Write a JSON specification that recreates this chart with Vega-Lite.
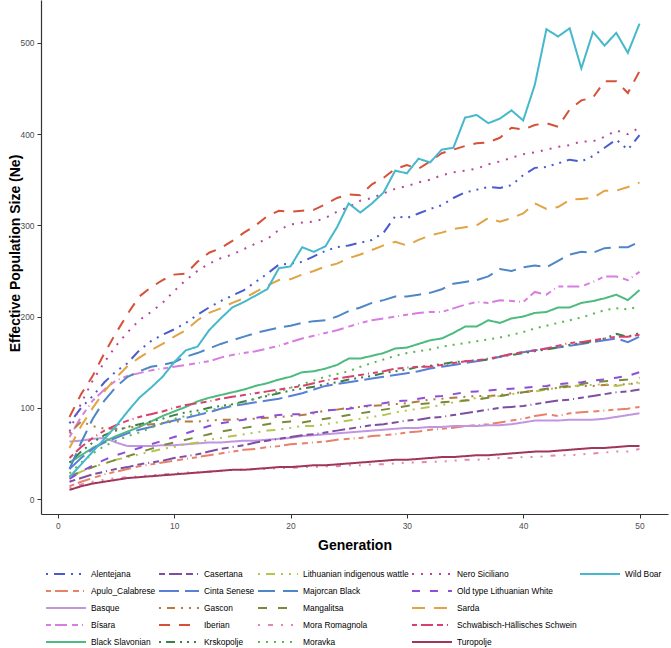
{
  "$schema": "https://vega.github.io/schema/vega-lite/v6.json",
  "width": 627,
  "height": 514,
  "autosize": "none",
  "padding": {"left": 41, "top": 0, "right": 3, "bottom": 134},
  "background": "white",
  "config": {
    "view": {"stroke": null},
    "font": "Liberation Sans",
    "axis": {
      "grid": false,
      "domainColor": "#333333",
      "domainWidth": 1.2,
      "tickColor": "#333333",
      "tickSize": 4,
      "labelFont": "Liberation Sans",
      "labelFontSize": 8.4,
      "labelColor": "#4d4d4d",
      "labelPadding": 3,
      "titleFont": "Liberation Sans",
      "titleFontSize": 14,
      "titleFontWeight": "bold",
      "titleColor": "#000000"
    },
    "legend": {
      "orient": "none",
      "legendX": 4,
      "legendY": 565.5,
      "columns": 5,
      "symbolType": "stroke",
      "symbolSize": 1600,
      "symbolStrokeWidth": 2,
      "clipHeight": 16.9,
      "labelFont": "Liberation Sans",
      "labelFontSize": 8.4,
      "labelColor": "#000000",
      "labelOffset": 4,
      "columnPadding": 2,
      "rowPadding": 0,
      "title": null
    }
  },
  "data": {"values": [
{"g":1,"b":"Alentejana","n":83},{"g":2,"b":"Alentejana","n":100},{"g":3,"b":"Alentejana","n":113},{"g":4,"b":"Alentejana","n":128},{"g":5,"b":"Alentejana","n":140},{"g":6,"b":"Alentejana","n":149},{"g":7,"b":"Alentejana","n":163},{"g":8,"b":"Alentejana","n":173},{"g":9,"b":"Alentejana","n":180},{"g":10,"b":"Alentejana","n":186},{"g":11,"b":"Alentejana","n":193},{"g":12,"b":"Alentejana","n":202},{"g":13,"b":"Alentejana","n":210},{"g":14,"b":"Alentejana","n":217},{"g":15,"b":"Alentejana","n":223},{"g":16,"b":"Alentejana","n":229},{"g":17,"b":"Alentejana","n":238},{"g":18,"b":"Alentejana","n":247},{"g":19,"b":"Alentejana","n":257},{"g":20,"b":"Alentejana","n":258},{"g":21,"b":"Alentejana","n":260},{"g":22,"b":"Alentejana","n":266},{"g":23,"b":"Alentejana","n":272},{"g":24,"b":"Alentejana","n":276},{"g":25,"b":"Alentejana","n":278},{"g":26,"b":"Alentejana","n":281},{"g":27,"b":"Alentejana","n":284},{"g":28,"b":"Alentejana","n":292},{"g":29,"b":"Alentejana","n":310},{"g":30,"b":"Alentejana","n":308},{"g":31,"b":"Alentejana","n":313},{"g":32,"b":"Alentejana","n":318},{"g":33,"b":"Alentejana","n":322},{"g":34,"b":"Alentejana","n":330},{"g":35,"b":"Alentejana","n":336},{"g":36,"b":"Alentejana","n":339},{"g":37,"b":"Alentejana","n":342},{"g":38,"b":"Alentejana","n":341},{"g":39,"b":"Alentejana","n":344},{"g":40,"b":"Alentejana","n":355},{"g":41,"b":"Alentejana","n":363},{"g":42,"b":"Alentejana","n":364},{"g":43,"b":"Alentejana","n":368},{"g":44,"b":"Alentejana","n":372},{"g":45,"b":"Alentejana","n":370},{"g":46,"b":"Alentejana","n":376},{"g":47,"b":"Alentejana","n":385},{"g":48,"b":"Alentejana","n":394},{"g":49,"b":"Alentejana","n":383},{"g":50,"b":"Alentejana","n":399},
{"g":1,"b":"Apulo_Calabrese","n":14},{"g":2,"b":"Apulo_Calabrese","n":19},{"g":3,"b":"Apulo_Calabrese","n":23},{"g":4,"b":"Apulo_Calabrese","n":27},{"g":5,"b":"Apulo_Calabrese","n":30},{"g":6,"b":"Apulo_Calabrese","n":33},{"g":7,"b":"Apulo_Calabrese","n":36},{"g":8,"b":"Apulo_Calabrese","n":38},{"g":9,"b":"Apulo_Calabrese","n":40},{"g":10,"b":"Apulo_Calabrese","n":42},{"g":11,"b":"Apulo_Calabrese","n":44},{"g":12,"b":"Apulo_Calabrese","n":46},{"g":13,"b":"Apulo_Calabrese","n":48},{"g":14,"b":"Apulo_Calabrese","n":50},{"g":15,"b":"Apulo_Calabrese","n":52},{"g":16,"b":"Apulo_Calabrese","n":54},{"g":17,"b":"Apulo_Calabrese","n":55},{"g":18,"b":"Apulo_Calabrese","n":57},{"g":19,"b":"Apulo_Calabrese","n":58},{"g":20,"b":"Apulo_Calabrese","n":60},{"g":21,"b":"Apulo_Calabrese","n":61},{"g":22,"b":"Apulo_Calabrese","n":62},{"g":23,"b":"Apulo_Calabrese","n":63},{"g":24,"b":"Apulo_Calabrese","n":65},{"g":25,"b":"Apulo_Calabrese","n":66},{"g":26,"b":"Apulo_Calabrese","n":67},{"g":27,"b":"Apulo_Calabrese","n":69},{"g":28,"b":"Apulo_Calabrese","n":70},{"g":29,"b":"Apulo_Calabrese","n":71},{"g":30,"b":"Apulo_Calabrese","n":73},{"g":31,"b":"Apulo_Calabrese","n":74},{"g":32,"b":"Apulo_Calabrese","n":76},{"g":33,"b":"Apulo_Calabrese","n":77},{"g":34,"b":"Apulo_Calabrese","n":78},{"g":35,"b":"Apulo_Calabrese","n":80},{"g":36,"b":"Apulo_Calabrese","n":81},{"g":37,"b":"Apulo_Calabrese","n":82},{"g":38,"b":"Apulo_Calabrese","n":84},{"g":39,"b":"Apulo_Calabrese","n":86},{"g":40,"b":"Apulo_Calabrese","n":88},{"g":41,"b":"Apulo_Calabrese","n":91},{"g":42,"b":"Apulo_Calabrese","n":93},{"g":43,"b":"Apulo_Calabrese","n":91},{"g":44,"b":"Apulo_Calabrese","n":94},{"g":45,"b":"Apulo_Calabrese","n":95},{"g":46,"b":"Apulo_Calabrese","n":96},{"g":47,"b":"Apulo_Calabrese","n":97},{"g":48,"b":"Apulo_Calabrese","n":98},{"g":49,"b":"Apulo_Calabrese","n":99},{"g":50,"b":"Apulo_Calabrese","n":101},
{"g":1,"b":"Basque","n":63},{"g":2,"b":"Basque","n":64},{"g":3,"b":"Basque","n":66},{"g":4,"b":"Basque","n":67},{"g":5,"b":"Basque","n":62},{"g":6,"b":"Basque","n":58},{"g":7,"b":"Basque","n":58},{"g":8,"b":"Basque","n":58},{"g":9,"b":"Basque","n":59},{"g":10,"b":"Basque","n":59},{"g":11,"b":"Basque","n":60},{"g":12,"b":"Basque","n":61},{"g":13,"b":"Basque","n":62},{"g":14,"b":"Basque","n":62},{"g":15,"b":"Basque","n":63},{"g":16,"b":"Basque","n":64},{"g":17,"b":"Basque","n":64},{"g":18,"b":"Basque","n":65},{"g":19,"b":"Basque","n":66},{"g":20,"b":"Basque","n":67},{"g":21,"b":"Basque","n":69},{"g":22,"b":"Basque","n":70},{"g":23,"b":"Basque","n":71},{"g":24,"b":"Basque","n":72},{"g":25,"b":"Basque","n":73},{"g":26,"b":"Basque","n":74},{"g":27,"b":"Basque","n":75},{"g":28,"b":"Basque","n":76},{"g":29,"b":"Basque","n":77},{"g":30,"b":"Basque","n":78},{"g":31,"b":"Basque","n":78},{"g":32,"b":"Basque","n":79},{"g":33,"b":"Basque","n":79},{"g":34,"b":"Basque","n":80},{"g":35,"b":"Basque","n":80},{"g":36,"b":"Basque","n":80},{"g":37,"b":"Basque","n":81},{"g":38,"b":"Basque","n":81},{"g":39,"b":"Basque","n":82},{"g":40,"b":"Basque","n":84},{"g":41,"b":"Basque","n":86},{"g":42,"b":"Basque","n":86},{"g":43,"b":"Basque","n":86},{"g":44,"b":"Basque","n":87},{"g":45,"b":"Basque","n":87},{"g":46,"b":"Basque","n":87},{"g":47,"b":"Basque","n":88},{"g":48,"b":"Basque","n":90},{"g":49,"b":"Basque","n":92},{"g":50,"b":"Basque","n":94},
{"g":1,"b":"Bísara","n":68},{"g":2,"b":"Bísara","n":90},{"g":3,"b":"Bísara","n":108},{"g":4,"b":"Bísara","n":120},{"g":5,"b":"Bísara","n":130},{"g":6,"b":"Bísara","n":135},{"g":7,"b":"Bísara","n":138},{"g":8,"b":"Bísara","n":141},{"g":9,"b":"Bísara","n":143},{"g":10,"b":"Bísara","n":145},{"g":11,"b":"Bísara","n":147},{"g":12,"b":"Bísara","n":149},{"g":13,"b":"Bísara","n":151},{"g":14,"b":"Bísara","n":155},{"g":15,"b":"Bísara","n":158},{"g":16,"b":"Bísara","n":160},{"g":17,"b":"Bísara","n":162},{"g":18,"b":"Bísara","n":165},{"g":19,"b":"Bísara","n":168},{"g":20,"b":"Bísara","n":172},{"g":21,"b":"Bísara","n":176},{"g":22,"b":"Bísara","n":179},{"g":23,"b":"Bísara","n":182},{"g":24,"b":"Bísara","n":185},{"g":25,"b":"Bísara","n":189},{"g":26,"b":"Bísara","n":193},{"g":27,"b":"Bísara","n":196},{"g":28,"b":"Bísara","n":198},{"g":29,"b":"Bísara","n":200},{"g":30,"b":"Bísara","n":202},{"g":31,"b":"Bísara","n":204},{"g":32,"b":"Bísara","n":205},{"g":33,"b":"Bísara","n":205},{"g":34,"b":"Bísara","n":209},{"g":35,"b":"Bísara","n":213},{"g":36,"b":"Bísara","n":216},{"g":37,"b":"Bísara","n":215},{"g":38,"b":"Bísara","n":218},{"g":39,"b":"Bísara","n":217},{"g":40,"b":"Bísara","n":216},{"g":41,"b":"Bísara","n":227},{"g":42,"b":"Bísara","n":224},{"g":43,"b":"Bísara","n":233},{"g":44,"b":"Bísara","n":233},{"g":45,"b":"Bísara","n":233},{"g":46,"b":"Bísara","n":238},{"g":47,"b":"Bísara","n":244},{"g":48,"b":"Bísara","n":244},{"g":49,"b":"Bísara","n":240},{"g":50,"b":"Bísara","n":249},
{"g":1,"b":"Black Slavonian","n":40},{"g":2,"b":"Black Slavonian","n":48},{"g":3,"b":"Black Slavonian","n":56},{"g":4,"b":"Black Slavonian","n":63},{"g":5,"b":"Black Slavonian","n":69},{"g":6,"b":"Black Slavonian","n":74},{"g":7,"b":"Black Slavonian","n":79},{"g":8,"b":"Black Slavonian","n":85},{"g":9,"b":"Black Slavonian","n":91},{"g":10,"b":"Black Slavonian","n":96},{"g":11,"b":"Black Slavonian","n":101},{"g":12,"b":"Black Slavonian","n":107},{"g":13,"b":"Black Slavonian","n":111},{"g":14,"b":"Black Slavonian","n":114},{"g":15,"b":"Black Slavonian","n":117},{"g":16,"b":"Black Slavonian","n":120},{"g":17,"b":"Black Slavonian","n":124},{"g":18,"b":"Black Slavonian","n":127},{"g":19,"b":"Black Slavonian","n":131},{"g":20,"b":"Black Slavonian","n":134},{"g":21,"b":"Black Slavonian","n":139},{"g":22,"b":"Black Slavonian","n":140},{"g":23,"b":"Black Slavonian","n":143},{"g":24,"b":"Black Slavonian","n":147},{"g":25,"b":"Black Slavonian","n":154},{"g":26,"b":"Black Slavonian","n":154},{"g":27,"b":"Black Slavonian","n":157},{"g":28,"b":"Black Slavonian","n":160},{"g":29,"b":"Black Slavonian","n":165},{"g":30,"b":"Black Slavonian","n":166},{"g":31,"b":"Black Slavonian","n":170},{"g":32,"b":"Black Slavonian","n":174},{"g":33,"b":"Black Slavonian","n":176},{"g":34,"b":"Black Slavonian","n":182},{"g":35,"b":"Black Slavonian","n":189},{"g":36,"b":"Black Slavonian","n":189},{"g":37,"b":"Black Slavonian","n":196},{"g":38,"b":"Black Slavonian","n":193},{"g":39,"b":"Black Slavonian","n":198},{"g":40,"b":"Black Slavonian","n":200},{"g":41,"b":"Black Slavonian","n":204},{"g":42,"b":"Black Slavonian","n":205},{"g":43,"b":"Black Slavonian","n":210},{"g":44,"b":"Black Slavonian","n":210},{"g":45,"b":"Black Slavonian","n":215},{"g":46,"b":"Black Slavonian","n":217},{"g":47,"b":"Black Slavonian","n":220},{"g":48,"b":"Black Slavonian","n":224},{"g":49,"b":"Black Slavonian","n":218},{"g":50,"b":"Black Slavonian","n":229},
{"g":1,"b":"Casertana","n":19},{"g":2,"b":"Casertana","n":23},{"g":3,"b":"Casertana","n":27},{"g":4,"b":"Casertana","n":30},{"g":5,"b":"Casertana","n":33},{"g":6,"b":"Casertana","n":35},{"g":7,"b":"Casertana","n":38},{"g":8,"b":"Casertana","n":40},{"g":9,"b":"Casertana","n":42},{"g":10,"b":"Casertana","n":45},{"g":11,"b":"Casertana","n":47},{"g":12,"b":"Casertana","n":49},{"g":13,"b":"Casertana","n":52},{"g":14,"b":"Casertana","n":55},{"g":15,"b":"Casertana","n":57},{"g":16,"b":"Casertana","n":59},{"g":17,"b":"Casertana","n":62},{"g":18,"b":"Casertana","n":64},{"g":19,"b":"Casertana","n":66},{"g":20,"b":"Casertana","n":68},{"g":21,"b":"Casertana","n":70},{"g":22,"b":"Casertana","n":71},{"g":23,"b":"Casertana","n":73},{"g":24,"b":"Casertana","n":75},{"g":25,"b":"Casertana","n":77},{"g":26,"b":"Casertana","n":79},{"g":27,"b":"Casertana","n":81},{"g":28,"b":"Casertana","n":82},{"g":29,"b":"Casertana","n":84},{"g":30,"b":"Casertana","n":86},{"g":31,"b":"Casertana","n":87},{"g":32,"b":"Casertana","n":89},{"g":33,"b":"Casertana","n":90},{"g":34,"b":"Casertana","n":92},{"g":35,"b":"Casertana","n":94},{"g":36,"b":"Casertana","n":96},{"g":37,"b":"Casertana","n":98},{"g":38,"b":"Casertana","n":100},{"g":39,"b":"Casertana","n":101},{"g":40,"b":"Casertana","n":102},{"g":41,"b":"Casertana","n":104},{"g":42,"b":"Casertana","n":106},{"g":43,"b":"Casertana","n":108},{"g":44,"b":"Casertana","n":109},{"g":45,"b":"Casertana","n":111},{"g":46,"b":"Casertana","n":113},{"g":47,"b":"Casertana","n":115},{"g":48,"b":"Casertana","n":117},{"g":49,"b":"Casertana","n":118},{"g":50,"b":"Casertana","n":120},
{"g":1,"b":"Cinta Senese","n":33},{"g":2,"b":"Cinta Senese","n":45},{"g":3,"b":"Cinta Senese","n":55},{"g":4,"b":"Cinta Senese","n":62},{"g":5,"b":"Cinta Senese","n":67},{"g":6,"b":"Cinta Senese","n":72},{"g":7,"b":"Cinta Senese","n":76},{"g":8,"b":"Cinta Senese","n":79},{"g":9,"b":"Cinta Senese","n":83},{"g":10,"b":"Cinta Senese","n":86},{"g":11,"b":"Cinta Senese","n":89},{"g":12,"b":"Cinta Senese","n":92},{"g":13,"b":"Cinta Senese","n":95},{"g":14,"b":"Cinta Senese","n":99},{"g":15,"b":"Cinta Senese","n":102},{"g":16,"b":"Cinta Senese","n":104},{"g":17,"b":"Cinta Senese","n":106},{"g":18,"b":"Cinta Senese","n":108},{"g":19,"b":"Cinta Senese","n":110},{"g":20,"b":"Cinta Senese","n":113},{"g":21,"b":"Cinta Senese","n":116},{"g":22,"b":"Cinta Senese","n":120},{"g":23,"b":"Cinta Senese","n":124},{"g":24,"b":"Cinta Senese","n":126},{"g":25,"b":"Cinta Senese","n":128},{"g":26,"b":"Cinta Senese","n":130},{"g":27,"b":"Cinta Senese","n":132},{"g":28,"b":"Cinta Senese","n":134},{"g":29,"b":"Cinta Senese","n":136},{"g":30,"b":"Cinta Senese","n":138},{"g":31,"b":"Cinta Senese","n":140},{"g":32,"b":"Cinta Senese","n":143},{"g":33,"b":"Cinta Senese","n":145},{"g":34,"b":"Cinta Senese","n":147},{"g":35,"b":"Cinta Senese","n":149},{"g":36,"b":"Cinta Senese","n":151},{"g":37,"b":"Cinta Senese","n":153},{"g":38,"b":"Cinta Senese","n":156},{"g":39,"b":"Cinta Senese","n":159},{"g":40,"b":"Cinta Senese","n":161},{"g":41,"b":"Cinta Senese","n":163},{"g":42,"b":"Cinta Senese","n":165},{"g":43,"b":"Cinta Senese","n":166},{"g":44,"b":"Cinta Senese","n":168},{"g":45,"b":"Cinta Senese","n":170},{"g":46,"b":"Cinta Senese","n":172},{"g":47,"b":"Cinta Senese","n":174},{"g":48,"b":"Cinta Senese","n":176},{"g":49,"b":"Cinta Senese","n":172},{"g":50,"b":"Cinta Senese","n":178},
{"g":1,"b":"Gascon","n":72},{"g":2,"b":"Gascon","n":85},{"g":3,"b":"Gascon","n":80},{"g":4,"b":"Gascon","n":77},{"g":5,"b":"Gascon","n":77},{"g":6,"b":"Gascon","n":78},{"g":7,"b":"Gascon","n":80},{"g":8,"b":"Gascon","n":82},{"g":9,"b":"Gascon","n":83},{"g":10,"b":"Gascon","n":85},{"g":11,"b":"Gascon","n":85},{"g":12,"b":"Gascon","n":85},{"g":13,"b":"Gascon","n":86},{"g":14,"b":"Gascon","n":87},{"g":15,"b":"Gascon","n":87},{"g":16,"b":"Gascon","n":88},{"g":17,"b":"Gascon","n":88},{"g":18,"b":"Gascon","n":89},{"g":19,"b":"Gascon","n":90},{"g":20,"b":"Gascon","n":91},{"g":21,"b":"Gascon","n":92},{"g":22,"b":"Gascon","n":94},{"g":23,"b":"Gascon","n":97},{"g":24,"b":"Gascon","n":98},{"g":25,"b":"Gascon","n":100},{"g":26,"b":"Gascon","n":101},{"g":27,"b":"Gascon","n":102},{"g":28,"b":"Gascon","n":103},{"g":29,"b":"Gascon","n":104},{"g":30,"b":"Gascon","n":105},{"g":31,"b":"Gascon","n":107},{"g":32,"b":"Gascon","n":109},{"g":33,"b":"Gascon","n":110},{"g":34,"b":"Gascon","n":111},{"g":35,"b":"Gascon","n":112},{"g":36,"b":"Gascon","n":113},{"g":37,"b":"Gascon","n":113},{"g":38,"b":"Gascon","n":114},{"g":39,"b":"Gascon","n":116},{"g":40,"b":"Gascon","n":117},{"g":41,"b":"Gascon","n":119},{"g":42,"b":"Gascon","n":120},{"g":43,"b":"Gascon","n":122},{"g":44,"b":"Gascon","n":123},{"g":45,"b":"Gascon","n":124},{"g":46,"b":"Gascon","n":124},{"g":47,"b":"Gascon","n":125},{"g":48,"b":"Gascon","n":125},{"g":49,"b":"Gascon","n":126},{"g":50,"b":"Gascon","n":127},
{"g":1,"b":"Iberian","n":90},{"g":2,"b":"Iberian","n":115},{"g":3,"b":"Iberian","n":135},{"g":4,"b":"Iberian","n":160},{"g":5,"b":"Iberian","n":182},{"g":6,"b":"Iberian","n":203},{"g":7,"b":"Iberian","n":222},{"g":8,"b":"Iberian","n":232},{"g":9,"b":"Iberian","n":240},{"g":10,"b":"Iberian","n":246},{"g":11,"b":"Iberian","n":247},{"g":12,"b":"Iberian","n":260},{"g":13,"b":"Iberian","n":270},{"g":14,"b":"Iberian","n":275},{"g":15,"b":"Iberian","n":283},{"g":16,"b":"Iberian","n":292},{"g":17,"b":"Iberian","n":300},{"g":18,"b":"Iberian","n":310},{"g":19,"b":"Iberian","n":316},{"g":20,"b":"Iberian","n":315},{"g":21,"b":"Iberian","n":316},{"g":22,"b":"Iberian","n":317},{"g":23,"b":"Iberian","n":323},{"g":24,"b":"Iberian","n":330},{"g":25,"b":"Iberian","n":334},{"g":26,"b":"Iberian","n":333},{"g":27,"b":"Iberian","n":345},{"g":28,"b":"Iberian","n":352},{"g":29,"b":"Iberian","n":362},{"g":30,"b":"Iberian","n":366},{"g":31,"b":"Iberian","n":362},{"g":32,"b":"Iberian","n":370},{"g":33,"b":"Iberian","n":379},{"g":34,"b":"Iberian","n":383},{"g":35,"b":"Iberian","n":387},{"g":36,"b":"Iberian","n":390},{"g":37,"b":"Iberian","n":391},{"g":38,"b":"Iberian","n":396},{"g":39,"b":"Iberian","n":407},{"g":40,"b":"Iberian","n":405},{"g":41,"b":"Iberian","n":410},{"g":42,"b":"Iberian","n":412},{"g":43,"b":"Iberian","n":408},{"g":44,"b":"Iberian","n":427},{"g":45,"b":"Iberian","n":437},{"g":46,"b":"Iberian","n":440},{"g":47,"b":"Iberian","n":458},{"g":48,"b":"Iberian","n":458},{"g":49,"b":"Iberian","n":445},{"g":50,"b":"Iberian","n":469},
{"g":1,"b":"Krskopolje","n":40},{"g":2,"b":"Krskopolje","n":52},{"g":3,"b":"Krskopolje","n":62},{"g":4,"b":"Krskopolje","n":70},{"g":5,"b":"Krskopolje","n":75},{"g":6,"b":"Krskopolje","n":79},{"g":7,"b":"Krskopolje","n":82},{"g":8,"b":"Krskopolje","n":85},{"g":9,"b":"Krskopolje","n":88},{"g":10,"b":"Krskopolje","n":92},{"g":11,"b":"Krskopolje","n":95},{"g":12,"b":"Krskopolje","n":97},{"g":13,"b":"Krskopolje","n":100},{"g":14,"b":"Krskopolje","n":102},{"g":15,"b":"Krskopolje","n":104},{"g":16,"b":"Krskopolje","n":107},{"g":17,"b":"Krskopolje","n":110},{"g":18,"b":"Krskopolje","n":113},{"g":19,"b":"Krskopolje","n":116},{"g":20,"b":"Krskopolje","n":119},{"g":21,"b":"Krskopolje","n":121},{"g":22,"b":"Krskopolje","n":123},{"g":23,"b":"Krskopolje","n":126},{"g":24,"b":"Krskopolje","n":128},{"g":25,"b":"Krskopolje","n":131},{"g":26,"b":"Krskopolje","n":133},{"g":27,"b":"Krskopolje","n":135},{"g":28,"b":"Krskopolje","n":138},{"g":29,"b":"Krskopolje","n":140},{"g":30,"b":"Krskopolje","n":142},{"g":31,"b":"Krskopolje","n":145},{"g":32,"b":"Krskopolje","n":146},{"g":33,"b":"Krskopolje","n":148},{"g":34,"b":"Krskopolje","n":150},{"g":35,"b":"Krskopolje","n":151},{"g":36,"b":"Krskopolje","n":152},{"g":37,"b":"Krskopolje","n":153},{"g":38,"b":"Krskopolje","n":156},{"g":39,"b":"Krskopolje","n":158},{"g":40,"b":"Krskopolje","n":160},{"g":41,"b":"Krskopolje","n":162},{"g":42,"b":"Krskopolje","n":164},{"g":43,"b":"Krskopolje","n":166},{"g":44,"b":"Krskopolje","n":169},{"g":45,"b":"Krskopolje","n":171},{"g":46,"b":"Krskopolje","n":173},{"g":47,"b":"Krskopolje","n":176},{"g":48,"b":"Krskopolje","n":181},{"g":49,"b":"Krskopolje","n":178},{"g":50,"b":"Krskopolje","n":182},
{"g":1,"b":"Lithuanian indigenous wattle","n":24},{"g":2,"b":"Lithuanian indigenous wattle","n":30},{"g":3,"b":"Lithuanian indigenous wattle","n":35},{"g":4,"b":"Lithuanian indigenous wattle","n":39},{"g":5,"b":"Lithuanian indigenous wattle","n":43},{"g":6,"b":"Lithuanian indigenous wattle","n":46},{"g":7,"b":"Lithuanian indigenous wattle","n":49},{"g":8,"b":"Lithuanian indigenous wattle","n":52},{"g":9,"b":"Lithuanian indigenous wattle","n":55},{"g":10,"b":"Lithuanian indigenous wattle","n":57},{"g":11,"b":"Lithuanian indigenous wattle","n":60},{"g":12,"b":"Lithuanian indigenous wattle","n":62},{"g":13,"b":"Lithuanian indigenous wattle","n":65},{"g":14,"b":"Lithuanian indigenous wattle","n":67},{"g":15,"b":"Lithuanian indigenous wattle","n":69},{"g":16,"b":"Lithuanian indigenous wattle","n":71},{"g":17,"b":"Lithuanian indigenous wattle","n":73},{"g":18,"b":"Lithuanian indigenous wattle","n":75},{"g":19,"b":"Lithuanian indigenous wattle","n":76},{"g":20,"b":"Lithuanian indigenous wattle","n":78},{"g":21,"b":"Lithuanian indigenous wattle","n":80},{"g":22,"b":"Lithuanian indigenous wattle","n":80},{"g":23,"b":"Lithuanian indigenous wattle","n":82},{"g":24,"b":"Lithuanian indigenous wattle","n":84},{"g":25,"b":"Lithuanian indigenous wattle","n":86},{"g":26,"b":"Lithuanian indigenous wattle","n":88},{"g":27,"b":"Lithuanian indigenous wattle","n":90},{"g":28,"b":"Lithuanian indigenous wattle","n":92},{"g":29,"b":"Lithuanian indigenous wattle","n":95},{"g":30,"b":"Lithuanian indigenous wattle","n":97},{"g":31,"b":"Lithuanian indigenous wattle","n":99},{"g":32,"b":"Lithuanian indigenous wattle","n":101},{"g":33,"b":"Lithuanian indigenous wattle","n":103},{"g":34,"b":"Lithuanian indigenous wattle","n":106},{"g":35,"b":"Lithuanian indigenous wattle","n":108},{"g":36,"b":"Lithuanian indigenous wattle","n":111},{"g":37,"b":"Lithuanian indigenous wattle","n":112},{"g":38,"b":"Lithuanian indigenous wattle","n":113},{"g":39,"b":"Lithuanian indigenous wattle","n":115},{"g":40,"b":"Lithuanian indigenous wattle","n":117},{"g":41,"b":"Lithuanian indigenous wattle","n":118},{"g":42,"b":"Lithuanian indigenous wattle","n":120},{"g":43,"b":"Lithuanian indigenous wattle","n":122},{"g":44,"b":"Lithuanian indigenous wattle","n":123},{"g":45,"b":"Lithuanian indigenous wattle","n":125},{"g":46,"b":"Lithuanian indigenous wattle","n":125},{"g":47,"b":"Lithuanian indigenous wattle","n":126},{"g":48,"b":"Lithuanian indigenous wattle","n":124},{"g":49,"b":"Lithuanian indigenous wattle","n":126},{"g":50,"b":"Lithuanian indigenous wattle","n":128},
{"g":1,"b":"Majorcan Black","n":33},{"g":2,"b":"Majorcan Black","n":62},{"g":3,"b":"Majorcan Black","n":88},{"g":4,"b":"Majorcan Black","n":108},{"g":5,"b":"Majorcan Black","n":123},{"g":6,"b":"Majorcan Black","n":134},{"g":7,"b":"Majorcan Black","n":140},{"g":8,"b":"Majorcan Black","n":145},{"g":9,"b":"Majorcan Black","n":147},{"g":10,"b":"Majorcan Black","n":150},{"g":11,"b":"Majorcan Black","n":156},{"g":12,"b":"Majorcan Black","n":160},{"g":13,"b":"Majorcan Black","n":165},{"g":14,"b":"Majorcan Black","n":170},{"g":15,"b":"Majorcan Black","n":174},{"g":16,"b":"Majorcan Black","n":178},{"g":17,"b":"Majorcan Black","n":182},{"g":18,"b":"Majorcan Black","n":185},{"g":19,"b":"Majorcan Black","n":188},{"g":20,"b":"Majorcan Black","n":190},{"g":21,"b":"Majorcan Black","n":193},{"g":22,"b":"Majorcan Black","n":195},{"g":23,"b":"Majorcan Black","n":196},{"g":24,"b":"Majorcan Black","n":200},{"g":25,"b":"Majorcan Black","n":206},{"g":26,"b":"Majorcan Black","n":210},{"g":27,"b":"Majorcan Black","n":215},{"g":28,"b":"Majorcan Black","n":218},{"g":29,"b":"Majorcan Black","n":222},{"g":30,"b":"Majorcan Black","n":222},{"g":31,"b":"Majorcan Black","n":224},{"g":32,"b":"Majorcan Black","n":226},{"g":33,"b":"Majorcan Black","n":230},{"g":34,"b":"Majorcan Black","n":236},{"g":35,"b":"Majorcan Black","n":238},{"g":36,"b":"Majorcan Black","n":240},{"g":37,"b":"Majorcan Black","n":244},{"g":38,"b":"Majorcan Black","n":252},{"g":39,"b":"Majorcan Black","n":250},{"g":40,"b":"Majorcan Black","n":254},{"g":41,"b":"Majorcan Black","n":256},{"g":42,"b":"Majorcan Black","n":254},{"g":43,"b":"Majorcan Black","n":261},{"g":44,"b":"Majorcan Black","n":268},{"g":45,"b":"Majorcan Black","n":271},{"g":46,"b":"Majorcan Black","n":270},{"g":47,"b":"Majorcan Black","n":275},{"g":48,"b":"Majorcan Black","n":276},{"g":49,"b":"Majorcan Black","n":276},{"g":50,"b":"Majorcan Black","n":282},
{"g":1,"b":"Mangalitsa","n":25},{"g":2,"b":"Mangalitsa","n":30},{"g":3,"b":"Mangalitsa","n":35},{"g":4,"b":"Mangalitsa","n":39},{"g":5,"b":"Mangalitsa","n":43},{"g":6,"b":"Mangalitsa","n":47},{"g":7,"b":"Mangalitsa","n":51},{"g":8,"b":"Mangalitsa","n":55},{"g":9,"b":"Mangalitsa","n":59},{"g":10,"b":"Mangalitsa","n":62},{"g":11,"b":"Mangalitsa","n":65},{"g":12,"b":"Mangalitsa","n":68},{"g":13,"b":"Mangalitsa","n":71},{"g":14,"b":"Mangalitsa","n":74},{"g":15,"b":"Mangalitsa","n":76},{"g":16,"b":"Mangalitsa","n":78},{"g":17,"b":"Mangalitsa","n":80},{"g":18,"b":"Mangalitsa","n":82},{"g":19,"b":"Mangalitsa","n":84},{"g":20,"b":"Mangalitsa","n":85},{"g":21,"b":"Mangalitsa","n":84},{"g":22,"b":"Mangalitsa","n":86},{"g":23,"b":"Mangalitsa","n":88},{"g":24,"b":"Mangalitsa","n":90},{"g":25,"b":"Mangalitsa","n":92},{"g":26,"b":"Mangalitsa","n":94},{"g":27,"b":"Mangalitsa","n":96},{"g":28,"b":"Mangalitsa","n":98},{"g":29,"b":"Mangalitsa","n":100},{"g":30,"b":"Mangalitsa","n":102},{"g":31,"b":"Mangalitsa","n":104},{"g":32,"b":"Mangalitsa","n":105},{"g":33,"b":"Mangalitsa","n":106},{"g":34,"b":"Mangalitsa","n":107},{"g":35,"b":"Mangalitsa","n":108},{"g":36,"b":"Mangalitsa","n":109},{"g":37,"b":"Mangalitsa","n":111},{"g":38,"b":"Mangalitsa","n":113},{"g":39,"b":"Mangalitsa","n":115},{"g":40,"b":"Mangalitsa","n":117},{"g":41,"b":"Mangalitsa","n":119},{"g":42,"b":"Mangalitsa","n":121},{"g":43,"b":"Mangalitsa","n":123},{"g":44,"b":"Mangalitsa","n":124},{"g":45,"b":"Mangalitsa","n":126},{"g":46,"b":"Mangalitsa","n":128},{"g":47,"b":"Mangalitsa","n":129},{"g":48,"b":"Mangalitsa","n":130},{"g":49,"b":"Mangalitsa","n":131},{"g":50,"b":"Mangalitsa","n":133},
{"g":1,"b":"Mora Romagnola","n":12},{"g":2,"b":"Mora Romagnola","n":16},{"g":3,"b":"Mora Romagnola","n":19},{"g":4,"b":"Mora Romagnola","n":21},{"g":5,"b":"Mora Romagnola","n":23},{"g":6,"b":"Mora Romagnola","n":24},{"g":7,"b":"Mora Romagnola","n":25},{"g":8,"b":"Mora Romagnola","n":26},{"g":9,"b":"Mora Romagnola","n":27},{"g":10,"b":"Mora Romagnola","n":28},{"g":11,"b":"Mora Romagnola","n":29},{"g":12,"b":"Mora Romagnola","n":29},{"g":13,"b":"Mora Romagnola","n":30},{"g":14,"b":"Mora Romagnola","n":31},{"g":15,"b":"Mora Romagnola","n":32},{"g":16,"b":"Mora Romagnola","n":32},{"g":17,"b":"Mora Romagnola","n":33},{"g":18,"b":"Mora Romagnola","n":33},{"g":19,"b":"Mora Romagnola","n":34},{"g":20,"b":"Mora Romagnola","n":34},{"g":21,"b":"Mora Romagnola","n":35},{"g":22,"b":"Mora Romagnola","n":35},{"g":23,"b":"Mora Romagnola","n":36},{"g":24,"b":"Mora Romagnola","n":36},{"g":25,"b":"Mora Romagnola","n":37},{"g":26,"b":"Mora Romagnola","n":37},{"g":27,"b":"Mora Romagnola","n":38},{"g":28,"b":"Mora Romagnola","n":38},{"g":29,"b":"Mora Romagnola","n":39},{"g":30,"b":"Mora Romagnola","n":40},{"g":31,"b":"Mora Romagnola","n":40},{"g":32,"b":"Mora Romagnola","n":41},{"g":33,"b":"Mora Romagnola","n":41},{"g":34,"b":"Mora Romagnola","n":42},{"g":35,"b":"Mora Romagnola","n":43},{"g":36,"b":"Mora Romagnola","n":43},{"g":37,"b":"Mora Romagnola","n":44},{"g":38,"b":"Mora Romagnola","n":45},{"g":39,"b":"Mora Romagnola","n":45},{"g":40,"b":"Mora Romagnola","n":46},{"g":41,"b":"Mora Romagnola","n":46},{"g":42,"b":"Mora Romagnola","n":47},{"g":43,"b":"Mora Romagnola","n":48},{"g":44,"b":"Mora Romagnola","n":48},{"g":45,"b":"Mora Romagnola","n":49},{"g":46,"b":"Mora Romagnola","n":50},{"g":47,"b":"Mora Romagnola","n":51},{"g":48,"b":"Mora Romagnola","n":52},{"g":49,"b":"Mora Romagnola","n":52},{"g":50,"b":"Mora Romagnola","n":55},
{"g":1,"b":"Moravka","n":28},{"g":2,"b":"Moravka","n":40},{"g":3,"b":"Moravka","n":50},{"g":4,"b":"Moravka","n":58},{"g":5,"b":"Moravka","n":64},{"g":6,"b":"Moravka","n":69},{"g":7,"b":"Moravka","n":73},{"g":8,"b":"Moravka","n":78},{"g":9,"b":"Moravka","n":83},{"g":10,"b":"Moravka","n":88},{"g":11,"b":"Moravka","n":91},{"g":12,"b":"Moravka","n":94},{"g":13,"b":"Moravka","n":97},{"g":14,"b":"Moravka","n":100},{"g":15,"b":"Moravka","n":103},{"g":16,"b":"Moravka","n":106},{"g":17,"b":"Moravka","n":110},{"g":18,"b":"Moravka","n":114},{"g":19,"b":"Moravka","n":118},{"g":20,"b":"Moravka","n":122},{"g":21,"b":"Moravka","n":126},{"g":22,"b":"Moravka","n":130},{"g":23,"b":"Moravka","n":134},{"g":24,"b":"Moravka","n":137},{"g":25,"b":"Moravka","n":140},{"g":26,"b":"Moravka","n":145},{"g":27,"b":"Moravka","n":149},{"g":28,"b":"Moravka","n":153},{"g":29,"b":"Moravka","n":157},{"g":30,"b":"Moravka","n":160},{"g":31,"b":"Moravka","n":162},{"g":32,"b":"Moravka","n":164},{"g":33,"b":"Moravka","n":167},{"g":34,"b":"Moravka","n":169},{"g":35,"b":"Moravka","n":171},{"g":36,"b":"Moravka","n":173},{"g":37,"b":"Moravka","n":175},{"g":38,"b":"Moravka","n":177},{"g":39,"b":"Moravka","n":180},{"g":40,"b":"Moravka","n":183},{"g":41,"b":"Moravka","n":187},{"g":42,"b":"Moravka","n":190},{"g":43,"b":"Moravka","n":193},{"g":44,"b":"Moravka","n":196},{"g":45,"b":"Moravka","n":199},{"g":46,"b":"Moravka","n":203},{"g":47,"b":"Moravka","n":207},{"g":48,"b":"Moravka","n":209},{"g":49,"b":"Moravka","n":208},{"g":50,"b":"Moravka","n":211},
{"g":1,"b":"Nero Siciliano","n":74},{"g":2,"b":"Nero Siciliano","n":105},{"g":3,"b":"Nero Siciliano","n":130},{"g":4,"b":"Nero Siciliano","n":150},{"g":5,"b":"Nero Siciliano","n":168},{"g":6,"b":"Nero Siciliano","n":183},{"g":7,"b":"Nero Siciliano","n":196},{"g":8,"b":"Nero Siciliano","n":205},{"g":9,"b":"Nero Siciliano","n":215},{"g":10,"b":"Nero Siciliano","n":228},{"g":11,"b":"Nero Siciliano","n":240},{"g":12,"b":"Nero Siciliano","n":250},{"g":13,"b":"Nero Siciliano","n":258},{"g":14,"b":"Nero Siciliano","n":264},{"g":15,"b":"Nero Siciliano","n":268},{"g":16,"b":"Nero Siciliano","n":274},{"g":17,"b":"Nero Siciliano","n":280},{"g":18,"b":"Nero Siciliano","n":285},{"g":19,"b":"Nero Siciliano","n":295},{"g":20,"b":"Nero Siciliano","n":301},{"g":21,"b":"Nero Siciliano","n":303},{"g":22,"b":"Nero Siciliano","n":304},{"g":23,"b":"Nero Siciliano","n":308},{"g":24,"b":"Nero Siciliano","n":315},{"g":25,"b":"Nero Siciliano","n":320},{"g":26,"b":"Nero Siciliano","n":327},{"g":27,"b":"Nero Siciliano","n":330},{"g":28,"b":"Nero Siciliano","n":335},{"g":29,"b":"Nero Siciliano","n":340},{"g":30,"b":"Nero Siciliano","n":343},{"g":31,"b":"Nero Siciliano","n":347},{"g":32,"b":"Nero Siciliano","n":350},{"g":33,"b":"Nero Siciliano","n":355},{"g":34,"b":"Nero Siciliano","n":358},{"g":35,"b":"Nero Siciliano","n":360},{"g":36,"b":"Nero Siciliano","n":362},{"g":37,"b":"Nero Siciliano","n":367},{"g":38,"b":"Nero Siciliano","n":370},{"g":39,"b":"Nero Siciliano","n":374},{"g":40,"b":"Nero Siciliano","n":378},{"g":41,"b":"Nero Siciliano","n":380},{"g":42,"b":"Nero Siciliano","n":383},{"g":43,"b":"Nero Siciliano","n":386},{"g":44,"b":"Nero Siciliano","n":388},{"g":45,"b":"Nero Siciliano","n":392},{"g":46,"b":"Nero Siciliano","n":392},{"g":47,"b":"Nero Siciliano","n":397},{"g":48,"b":"Nero Siciliano","n":404},{"g":49,"b":"Nero Siciliano","n":400},{"g":50,"b":"Nero Siciliano","n":407},
{"g":1,"b":"Old type Lithuanian White","n":22},{"g":2,"b":"Old type Lithuanian White","n":30},{"g":3,"b":"Old type Lithuanian White","n":37},{"g":4,"b":"Old type Lithuanian White","n":43},{"g":5,"b":"Old type Lithuanian White","n":48},{"g":6,"b":"Old type Lithuanian White","n":52},{"g":7,"b":"Old type Lithuanian White","n":56},{"g":8,"b":"Old type Lithuanian White","n":60},{"g":9,"b":"Old type Lithuanian White","n":64},{"g":10,"b":"Old type Lithuanian White","n":68},{"g":11,"b":"Old type Lithuanian White","n":72},{"g":12,"b":"Old type Lithuanian White","n":76},{"g":13,"b":"Old type Lithuanian White","n":80},{"g":14,"b":"Old type Lithuanian White","n":83},{"g":15,"b":"Old type Lithuanian White","n":85},{"g":16,"b":"Old type Lithuanian White","n":87},{"g":17,"b":"Old type Lithuanian White","n":89},{"g":18,"b":"Old type Lithuanian White","n":91},{"g":19,"b":"Old type Lithuanian White","n":92},{"g":20,"b":"Old type Lithuanian White","n":93},{"g":21,"b":"Old type Lithuanian White","n":93},{"g":22,"b":"Old type Lithuanian White","n":95},{"g":23,"b":"Old type Lithuanian White","n":97},{"g":24,"b":"Old type Lithuanian White","n":98},{"g":25,"b":"Old type Lithuanian White","n":99},{"g":26,"b":"Old type Lithuanian White","n":101},{"g":27,"b":"Old type Lithuanian White","n":103},{"g":28,"b":"Old type Lithuanian White","n":105},{"g":29,"b":"Old type Lithuanian White","n":107},{"g":30,"b":"Old type Lithuanian White","n":108},{"g":31,"b":"Old type Lithuanian White","n":110},{"g":32,"b":"Old type Lithuanian White","n":112},{"g":33,"b":"Old type Lithuanian White","n":113},{"g":34,"b":"Old type Lithuanian White","n":115},{"g":35,"b":"Old type Lithuanian White","n":117},{"g":36,"b":"Old type Lithuanian White","n":118},{"g":37,"b":"Old type Lithuanian White","n":119},{"g":38,"b":"Old type Lithuanian White","n":120},{"g":39,"b":"Old type Lithuanian White","n":121},{"g":40,"b":"Old type Lithuanian White","n":122},{"g":41,"b":"Old type Lithuanian White","n":123},{"g":42,"b":"Old type Lithuanian White","n":124},{"g":43,"b":"Old type Lithuanian White","n":126},{"g":44,"b":"Old type Lithuanian White","n":127},{"g":45,"b":"Old type Lithuanian White","n":128},{"g":46,"b":"Old type Lithuanian White","n":130},{"g":47,"b":"Old type Lithuanian White","n":131},{"g":48,"b":"Old type Lithuanian White","n":133},{"g":49,"b":"Old type Lithuanian White","n":135},{"g":50,"b":"Old type Lithuanian White","n":139},
{"g":1,"b":"Sarda","n":56},{"g":2,"b":"Sarda","n":80},{"g":3,"b":"Sarda","n":100},{"g":4,"b":"Sarda","n":118},{"g":5,"b":"Sarda","n":133},{"g":6,"b":"Sarda","n":146},{"g":7,"b":"Sarda","n":155},{"g":8,"b":"Sarda","n":163},{"g":9,"b":"Sarda","n":170},{"g":10,"b":"Sarda","n":178},{"g":11,"b":"Sarda","n":185},{"g":12,"b":"Sarda","n":196},{"g":13,"b":"Sarda","n":204},{"g":14,"b":"Sarda","n":209},{"g":15,"b":"Sarda","n":215},{"g":16,"b":"Sarda","n":220},{"g":17,"b":"Sarda","n":227},{"g":18,"b":"Sarda","n":234},{"g":19,"b":"Sarda","n":240},{"g":20,"b":"Sarda","n":241},{"g":21,"b":"Sarda","n":246},{"g":22,"b":"Sarda","n":250},{"g":23,"b":"Sarda","n":255},{"g":24,"b":"Sarda","n":258},{"g":25,"b":"Sarda","n":264},{"g":26,"b":"Sarda","n":268},{"g":27,"b":"Sarda","n":273},{"g":28,"b":"Sarda","n":278},{"g":29,"b":"Sarda","n":282},{"g":30,"b":"Sarda","n":278},{"g":31,"b":"Sarda","n":284},{"g":32,"b":"Sarda","n":289},{"g":33,"b":"Sarda","n":292},{"g":34,"b":"Sarda","n":296},{"g":35,"b":"Sarda","n":298},{"g":36,"b":"Sarda","n":300},{"g":37,"b":"Sarda","n":308},{"g":38,"b":"Sarda","n":304},{"g":39,"b":"Sarda","n":308},{"g":40,"b":"Sarda","n":313},{"g":41,"b":"Sarda","n":324},{"g":42,"b":"Sarda","n":318},{"g":43,"b":"Sarda","n":320},{"g":44,"b":"Sarda","n":328},{"g":45,"b":"Sarda","n":329},{"g":46,"b":"Sarda","n":330},{"g":47,"b":"Sarda","n":338},{"g":48,"b":"Sarda","n":338},{"g":49,"b":"Sarda","n":342},{"g":50,"b":"Sarda","n":347},
{"g":1,"b":"Schwäbisch-Hällisches Schwein","n":45},{"g":2,"b":"Schwäbisch-Hällisches Schwein","n":57},{"g":3,"b":"Schwäbisch-Hällisches Schwein","n":67},{"g":4,"b":"Schwäbisch-Hällisches Schwein","n":75},{"g":5,"b":"Schwäbisch-Hällisches Schwein","n":81},{"g":6,"b":"Schwäbisch-Hällisches Schwein","n":86},{"g":7,"b":"Schwäbisch-Hällisches Schwein","n":90},{"g":8,"b":"Schwäbisch-Hällisches Schwein","n":93},{"g":9,"b":"Schwäbisch-Hällisches Schwein","n":96},{"g":10,"b":"Schwäbisch-Hällisches Schwein","n":100},{"g":11,"b":"Schwäbisch-Hällisches Schwein","n":103},{"g":12,"b":"Schwäbisch-Hällisches Schwein","n":105},{"g":13,"b":"Schwäbisch-Hällisches Schwein","n":107},{"g":14,"b":"Schwäbisch-Hällisches Schwein","n":110},{"g":15,"b":"Schwäbisch-Hällisches Schwein","n":112},{"g":16,"b":"Schwäbisch-Hällisches Schwein","n":114},{"g":17,"b":"Schwäbisch-Hällisches Schwein","n":116},{"g":18,"b":"Schwäbisch-Hällisches Schwein","n":118},{"g":19,"b":"Schwäbisch-Hällisches Schwein","n":120},{"g":20,"b":"Schwäbisch-Hällisches Schwein","n":122},{"g":21,"b":"Schwäbisch-Hällisches Schwein","n":124},{"g":22,"b":"Schwäbisch-Hällisches Schwein","n":127},{"g":23,"b":"Schwäbisch-Hällisches Schwein","n":130},{"g":24,"b":"Schwäbisch-Hällisches Schwein","n":132},{"g":25,"b":"Schwäbisch-Hällisches Schwein","n":134},{"g":26,"b":"Schwäbisch-Hällisches Schwein","n":136},{"g":27,"b":"Schwäbisch-Hällisches Schwein","n":138},{"g":28,"b":"Schwäbisch-Hällisches Schwein","n":140},{"g":29,"b":"Schwäbisch-Hällisches Schwein","n":143},{"g":30,"b":"Schwäbisch-Hällisches Schwein","n":144},{"g":31,"b":"Schwäbisch-Hällisches Schwein","n":145},{"g":32,"b":"Schwäbisch-Hällisches Schwein","n":145},{"g":33,"b":"Schwäbisch-Hällisches Schwein","n":147},{"g":34,"b":"Schwäbisch-Hällisches Schwein","n":149},{"g":35,"b":"Schwäbisch-Hällisches Schwein","n":151},{"g":36,"b":"Schwäbisch-Hällisches Schwein","n":152},{"g":37,"b":"Schwäbisch-Hällisches Schwein","n":154},{"g":38,"b":"Schwäbisch-Hällisches Schwein","n":156},{"g":39,"b":"Schwäbisch-Hällisches Schwein","n":159},{"g":40,"b":"Schwäbisch-Hällisches Schwein","n":161},{"g":41,"b":"Schwäbisch-Hällisches Schwein","n":163},{"g":42,"b":"Schwäbisch-Hällisches Schwein","n":165},{"g":43,"b":"Schwäbisch-Hällisches Schwein","n":168},{"g":44,"b":"Schwäbisch-Hällisches Schwein","n":171},{"g":45,"b":"Schwäbisch-Hällisches Schwein","n":172},{"g":46,"b":"Schwäbisch-Hällisches Schwein","n":174},{"g":47,"b":"Schwäbisch-Hällisches Schwein","n":176},{"g":48,"b":"Schwäbisch-Hällisches Schwein","n":178},{"g":49,"b":"Schwäbisch-Hällisches Schwein","n":178},{"g":50,"b":"Schwäbisch-Hällisches Schwein","n":180},
{"g":1,"b":"Turopolje","n":10},{"g":2,"b":"Turopolje","n":14},{"g":3,"b":"Turopolje","n":17},{"g":4,"b":"Turopolje","n":19},{"g":5,"b":"Turopolje","n":21},{"g":6,"b":"Turopolje","n":23},{"g":7,"b":"Turopolje","n":24},{"g":8,"b":"Turopolje","n":25},{"g":9,"b":"Turopolje","n":26},{"g":10,"b":"Turopolje","n":27},{"g":11,"b":"Turopolje","n":28},{"g":12,"b":"Turopolje","n":29},{"g":13,"b":"Turopolje","n":30},{"g":14,"b":"Turopolje","n":31},{"g":15,"b":"Turopolje","n":32},{"g":16,"b":"Turopolje","n":32},{"g":17,"b":"Turopolje","n":33},{"g":18,"b":"Turopolje","n":34},{"g":19,"b":"Turopolje","n":35},{"g":20,"b":"Turopolje","n":35},{"g":21,"b":"Turopolje","n":36},{"g":22,"b":"Turopolje","n":37},{"g":23,"b":"Turopolje","n":37},{"g":24,"b":"Turopolje","n":38},{"g":25,"b":"Turopolje","n":39},{"g":26,"b":"Turopolje","n":40},{"g":27,"b":"Turopolje","n":41},{"g":28,"b":"Turopolje","n":42},{"g":29,"b":"Turopolje","n":43},{"g":30,"b":"Turopolje","n":43},{"g":31,"b":"Turopolje","n":44},{"g":32,"b":"Turopolje","n":45},{"g":33,"b":"Turopolje","n":46},{"g":34,"b":"Turopolje","n":46},{"g":35,"b":"Turopolje","n":47},{"g":36,"b":"Turopolje","n":48},{"g":37,"b":"Turopolje","n":48},{"g":38,"b":"Turopolje","n":49},{"g":39,"b":"Turopolje","n":50},{"g":40,"b":"Turopolje","n":51},{"g":41,"b":"Turopolje","n":52},{"g":42,"b":"Turopolje","n":52},{"g":43,"b":"Turopolje","n":53},{"g":44,"b":"Turopolje","n":54},{"g":45,"b":"Turopolje","n":55},{"g":46,"b":"Turopolje","n":56},{"g":47,"b":"Turopolje","n":56},{"g":48,"b":"Turopolje","n":57},{"g":49,"b":"Turopolje","n":58},{"g":50,"b":"Turopolje","n":58},
{"g":1,"b":"Wild Boar","n":24},{"g":2,"b":"Wild Boar","n":38},{"g":3,"b":"Wild Boar","n":52},{"g":4,"b":"Wild Boar","n":66},{"g":5,"b":"Wild Boar","n":80},{"g":6,"b":"Wild Boar","n":96},{"g":7,"b":"Wild Boar","n":111},{"g":8,"b":"Wild Boar","n":122},{"g":9,"b":"Wild Boar","n":134},{"g":10,"b":"Wild Boar","n":150},{"g":11,"b":"Wild Boar","n":163},{"g":12,"b":"Wild Boar","n":167},{"g":13,"b":"Wild Boar","n":185},{"g":14,"b":"Wild Boar","n":198},{"g":15,"b":"Wild Boar","n":210},{"g":16,"b":"Wild Boar","n":216},{"g":17,"b":"Wild Boar","n":223},{"g":18,"b":"Wild Boar","n":230},{"g":19,"b":"Wild Boar","n":253},{"g":20,"b":"Wild Boar","n":255},{"g":21,"b":"Wild Boar","n":276},{"g":22,"b":"Wild Boar","n":271},{"g":23,"b":"Wild Boar","n":277},{"g":24,"b":"Wild Boar","n":298},{"g":25,"b":"Wild Boar","n":324},{"g":26,"b":"Wild Boar","n":314},{"g":27,"b":"Wild Boar","n":324},{"g":28,"b":"Wild Boar","n":336},{"g":29,"b":"Wild Boar","n":360},{"g":30,"b":"Wild Boar","n":357},{"g":31,"b":"Wild Boar","n":373},{"g":32,"b":"Wild Boar","n":369},{"g":33,"b":"Wild Boar","n":383},{"g":34,"b":"Wild Boar","n":385},{"g":35,"b":"Wild Boar","n":418},{"g":36,"b":"Wild Boar","n":421},{"g":37,"b":"Wild Boar","n":412},{"g":38,"b":"Wild Boar","n":417},{"g":39,"b":"Wild Boar","n":426},{"g":40,"b":"Wild Boar","n":415},{"g":41,"b":"Wild Boar","n":454},{"g":42,"b":"Wild Boar","n":515},{"g":43,"b":"Wild Boar","n":507},{"g":44,"b":"Wild Boar","n":516},{"g":45,"b":"Wild Boar","n":472},{"g":46,"b":"Wild Boar","n":512},{"g":47,"b":"Wild Boar","n":497},{"g":48,"b":"Wild Boar","n":511},{"g":49,"b":"Wild Boar","n":489},{"g":50,"b":"Wild Boar","n":521}
  ]},
  "mark": {"type": "line", "strokeWidth": 2, "clip": true},
  "encoding": {
    "x": {
      "field": "g", "type": "quantitative",
      "scale": {"domain": [-1.45, 52.45], "nice": false, "zero": false},
      "axis": {"values": [0, 10, 20, 30, 40, 50], "title": "Generation", "titleBaseline": "alphabetic", "titleY": 35}
    },
    "y": {
      "field": "n", "type": "quantitative",
      "scale": {"domain": [-16.4, 547], "nice": false, "zero": false},
      "axis": {"values": [0, 100, 200, 300, 400, 500], "title": "Effective Population Size (Ne)", "titleAngle": -90, "titleBaseline": "alphabetic", "titleAlign": "center", "titleX": -22, "titleY": 253}
    },
    "color": {
      "field": "b", "type": "nominal",
      "scale": {
        "domain": ["Alentejana", "Apulo_Calabrese", "Basque", "Bísara", "Black Slavonian",
                   "Casertana", "Cinta Senese", "Gascon", "Iberian", "Krskopolje",
                   "Lithuanian indigenous wattle", "Majorcan Black", "Mangalitsa", "Mora Romagnola", "Moravka",
                   "Nero Siciliano", "Old type Lithuanian White", "Sarda", "Schwäbisch-Hällisches Schwein", "Turopolje",
                   "Wild Boar", " ", "  ", "   "],
        "range": ["#4a5bd0", "#e8806a", "#c395e0", "#d77ee0", "#4dbb80",
                  "#7e4ea0", "#5a7fd8", "#b47a3e", "#d6513a", "#3c8048",
                  "#b3c450", "#4f86c6", "#7b8a3a", "#e088b5", "#5cb84e",
                  "#b8469c", "#8b4fd8", "#e0a445", "#d8416e", "#a03658",
                  "#45b8cc", "transparent", "transparent", "transparent"]
      },
      "legend": {"title": null}
    },
    "strokeDash": {
      "field": "b", "type": "nominal",
      "scale": {
        "domain": ["Alentejana", "Apulo_Calabrese", "Basque", "Bísara", "Black Slavonian",
                   "Casertana", "Cinta Senese", "Gascon", "Iberian", "Krskopolje",
                   "Lithuanian indigenous wattle", "Majorcan Black", "Mangalitsa", "Mora Romagnola", "Moravka",
                   "Nero Siciliano", "Old type Lithuanian White", "Sarda", "Schwäbisch-Hällisches Schwein", "Turopolje",
                   "Wild Boar", " ", "  ", "   "],
        "range": [[2,6,11,6,2,6,2,6], [5,4,13,5,6,4,1,4], [1,0], [5,4,12,5,6,4,1,4], [1,0],
                  [6,4,13,4,7,4,1,4], [20,6], [2,6,8,6,2,6,2,6], [11,9], [2,5,9,5,2,5,2,5],
                  [2,6,9,6,2,6,2,6], [17,8], [9,11], [2,8,5,8,2,8,2,8], [2,6],
                  [2,7], [8,10], [13,9], [5,4,12,4,6,4,1,4], [1,0],
                  [1,0], [1,0], [1,0], [1,0]]
      },
      "legend": {"title": null}
    }
  }
}
